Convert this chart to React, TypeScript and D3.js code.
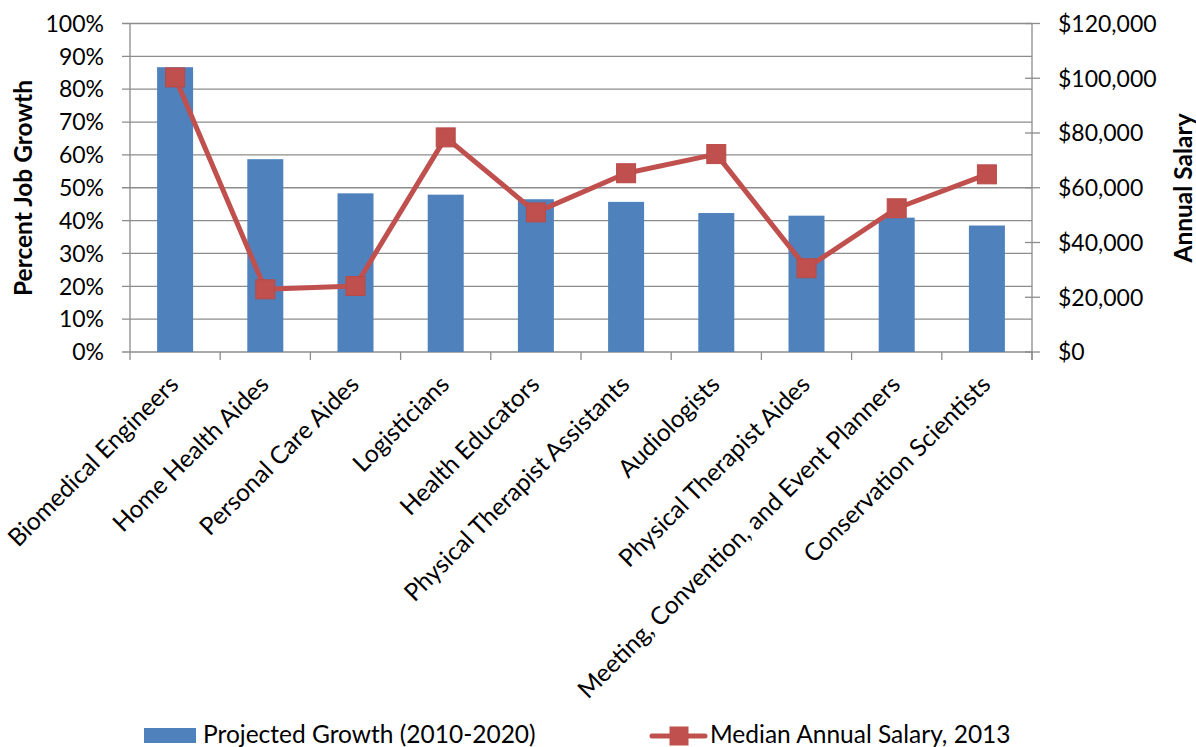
import React from "react";
import * as d3 from "d3";

const categories = [
  "Biomedical Engineers",
  "Home Health Aides",
  "Personal Care Aides",
  "Logisticians",
  "Health Educators",
  "Physical Therapist Assistants",
  "Audiologists",
  "Physical Therapist Aides",
  "Meeting, Convention, and Event Planners",
  "Conservation Scientists",
];
const growth = [0.867, 0.587, 0.483, 0.479, 0.465, 0.457, 0.423, 0.415, 0.409, 0.385];
const salary = [100300, 22900, 24100, 78400, 51000, 65300, 72300, 30600, 52500, 64900];
const leftTicks = [0, 0.1, 0.2, 0.3, 0.4, 0.5, 0.6, 0.7, 0.8, 0.9, 1.0];
const rightTicks = [0, 20000, 40000, 60000, 80000, 100000, 120000];
const seriesNames = ["Projected Growth (2010-2020)", "Median Annual Salary, 2013"];

const W = 1196;
const H = 747;
const left = 130;
const right = 1032;
const top = 23.5;
const bottom = 352;
const FONT = "Lato, 'Open Sans', sans-serif";
const BLUE = "#4F81BD";
const RED = "#C0504D";
const GRID = "#8C8C8C";

export default function App() {
  const band = d3.scaleBand<string>().domain(categories).range([left, right]);
  const yL = d3.scaleLinear().domain([0, 1]).range([bottom, top]);
  const yR = d3.scaleLinear().domain([0, 120000]).range([bottom, top]);
  const cx = (c: string) => (band(c) as number) + band.bandwidth() / 2;
  const line = d3
    .line<number>()
    .x((_, i) => cx(categories[i]))
    .y((d) => yR(d));
  const pct = d3.format(".0%");
  const money = (v: number) => "$" + d3.format(",")(v);
  const ms = 19;

  return (
    <svg
      width={W}
      height={H}
      style={{ position: "absolute", left: 0, top: 0, background: "#fff" }}
      fontFamily={FONT}
    >
      {/* gridlines */}
      {leftTicks.map((t) => (
        <line key={"g" + t} x1={left - 8} x2={right} y1={yL(t)} y2={yL(t)} stroke={GRID} strokeWidth={1.3} />
      ))}
      {/* left axis */}
      <line x1={left} x2={left} y1={top} y2={bottom + 8} stroke={GRID} strokeWidth={1.3} />
      {leftTicks.map((t) => (
        <text key={"lt" + t} x={104} y={yL(t)} dy="0.36em" textAnchor="end" fontSize={23} fill="#000">
          {pct(t)}
        </text>
      ))}
      {/* bottom ticks */}
      {categories.map((c) => (
        <line key={"bt" + c} x1={(band(c) as number) + band.bandwidth()} x2={(band(c) as number) + band.bandwidth()} y1={bottom} y2={bottom + 8} stroke={GRID} strokeWidth={1.3} />
      ))}
      {/* right axis */}
      <line x1={right} x2={right} y1={top} y2={bottom + 8} stroke={GRID} strokeWidth={1.3} />
      {rightTicks.map((t) => (
        <g key={"rt" + t}>
          <line x1={right - 7} x2={right + 8} y1={yR(t)} y2={yR(t)} stroke={GRID} strokeWidth={1.3} />
          <text x={1058} y={yR(t)} dy="0.36em" textAnchor="start" fontSize={23} fill="#000">
            {money(t)}
          </text>
        </g>
      ))}
      {/* bars */}
      {categories.map((c, i) => (
        <rect
          key={"b" + c}
          x={cx(c) - 18}
          width={36}
          y={yL(growth[i])}
          height={bottom - yL(growth[i])}
          fill={BLUE}
        />
      ))}
      {/* line */}
      <path d={line(salary) || ""} fill="none" stroke={RED} strokeWidth={5} strokeLinejoin="round" />
      {salary.map((v, i) => (
        <rect key={"m" + i} x={cx(categories[i]) - ms / 2} y={yR(v) - ms / 2} width={ms} height={ms} fill={RED} stroke="#B84A47" strokeWidth={1} />
      ))}
      {/* category labels */}
      {categories.map((c) => (
        <text
          key={"cl" + c}
          transform={`translate(${cx(c) + 5},${386}) rotate(-45)`}
          textAnchor="end"
          fontSize={24.5}
          fill="#000"
        >
          {c}
        </text>
      ))}
      {/* axis titles */}
      <text transform={`translate(32,188) rotate(-90)`} textAnchor="middle" fontSize={24.5} fontWeight="bold" fill="#000">
        Percent Job Growth
      </text>
      <text transform={`translate(1192,188) rotate(-90)`} textAnchor="middle" fontSize={24.5} fontWeight="bold" fill="#000">
        Annual Salary
      </text>
      {/* legend */}
      <rect x={144} y={728} width={52} height={15} fill={BLUE} />
      <text x={203} y={743} fontSize={24.5} fill="#000">
        {seriesNames[0]}
      </text>
      <line x1={652} x2={705} y1={736} y2={736} stroke={RED} strokeWidth={5} strokeLinecap="round" />
      <rect x={679 - ms / 2} y={736 - ms / 2} width={ms} height={ms} fill={RED} />
      <text x={710} y={743} fontSize={24.5} fill="#000">
        {seriesNames[1]}
      </text>
    </svg>
  );
}
